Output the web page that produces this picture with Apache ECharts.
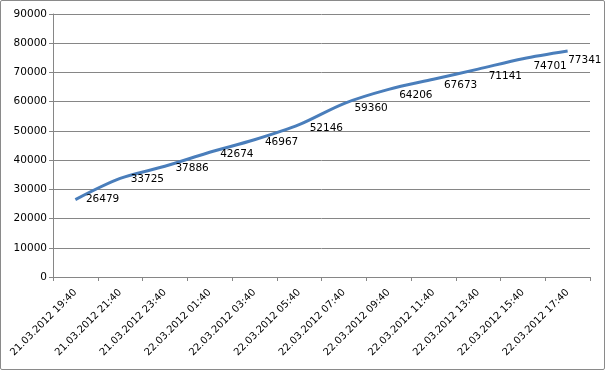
<!DOCTYPE html>
<html><head><meta charset="utf-8">
<script src="https://cdn.jsdelivr.net/npm/echarts@6/dist/echarts.min.js"></script>
<style>html,body{margin:0;padding:0;background:#fff}#c{width:605px;height:370px;box-sizing:border-box;border:1px solid #8a8a8a;border-radius:2px}</style>
</head><body><div id="c"></div>
<script>
const categories = ["21.03.2012 19:40","21.03.2012 21:40","21.03.2012 23:40","22.03.2012 01:40","22.03.2012 03:40","22.03.2012 05:40","22.03.2012 07:40","22.03.2012 09:40","22.03.2012 11:40","22.03.2012 13:40","22.03.2012 15:40","22.03.2012 17:40"];
const values = [26479,33725,37886,42674,46967,52146,59360,64206,67673,71141,74701,77341];
const yTicks = {min:0, max:90000, interval:10000};

const chart = echarts.init(document.getElementById('c'), null, {renderer:'canvas'});
const n = values.length;
chart.setOption({
  animation:false,
  grid:{left:52, right:14, top:13, bottom:92, containLabel:false},
  xAxis:{
    type:'category', data:categories, boundaryGap:true,
    axisLine:{lineStyle:{color:'#868686', width:1}},
    axisTick:{show:true, length:4, lineStyle:{color:'#868686'}, alignWithLabel:false},
    axisLabel:{rotate:45, interval:0, fontFamily:'DejaVu Sans', fontSize:10, color:'#000', margin:14}
  },
  yAxis:{
    type:'value', min:yTicks.min, max:yTicks.max, interval:yTicks.interval,
    axisLine:{show:true, lineStyle:{color:'#868686'}},
    axisTick:{show:true, length:4, lineStyle:{color:'#868686'}},
    splitLine:{lineStyle:{color:'#868686', width:1}},
    axisLabel:{fontFamily:'DejaVu Sans', fontSize:10.5, color:'#000', margin:6, formatter:(v)=>String(v)}
  },
  series:[{
    type:'line', data:values, smooth:0.3, showSymbol:true, symbol:'circle', symbolSize:1,
    itemStyle:{color:'rgba(0,0,0,0)', borderWidth:0},
    lineStyle:{color:'#4a7ebb', width:3},
    labelLayout:(p)=> p.dataIndex === n-1 ? {dx:-10, dy:9, hideOverlap:false} : {dx:0, dy:Math.round(p.dataIndex*0.8), hideOverlap:false},
    label:{show:true, position:'right', distance:10, fontFamily:'DejaVu Sans', fontSize:10.5, color:'#000', opacity:1}
  }]
});
</script></body></html>
